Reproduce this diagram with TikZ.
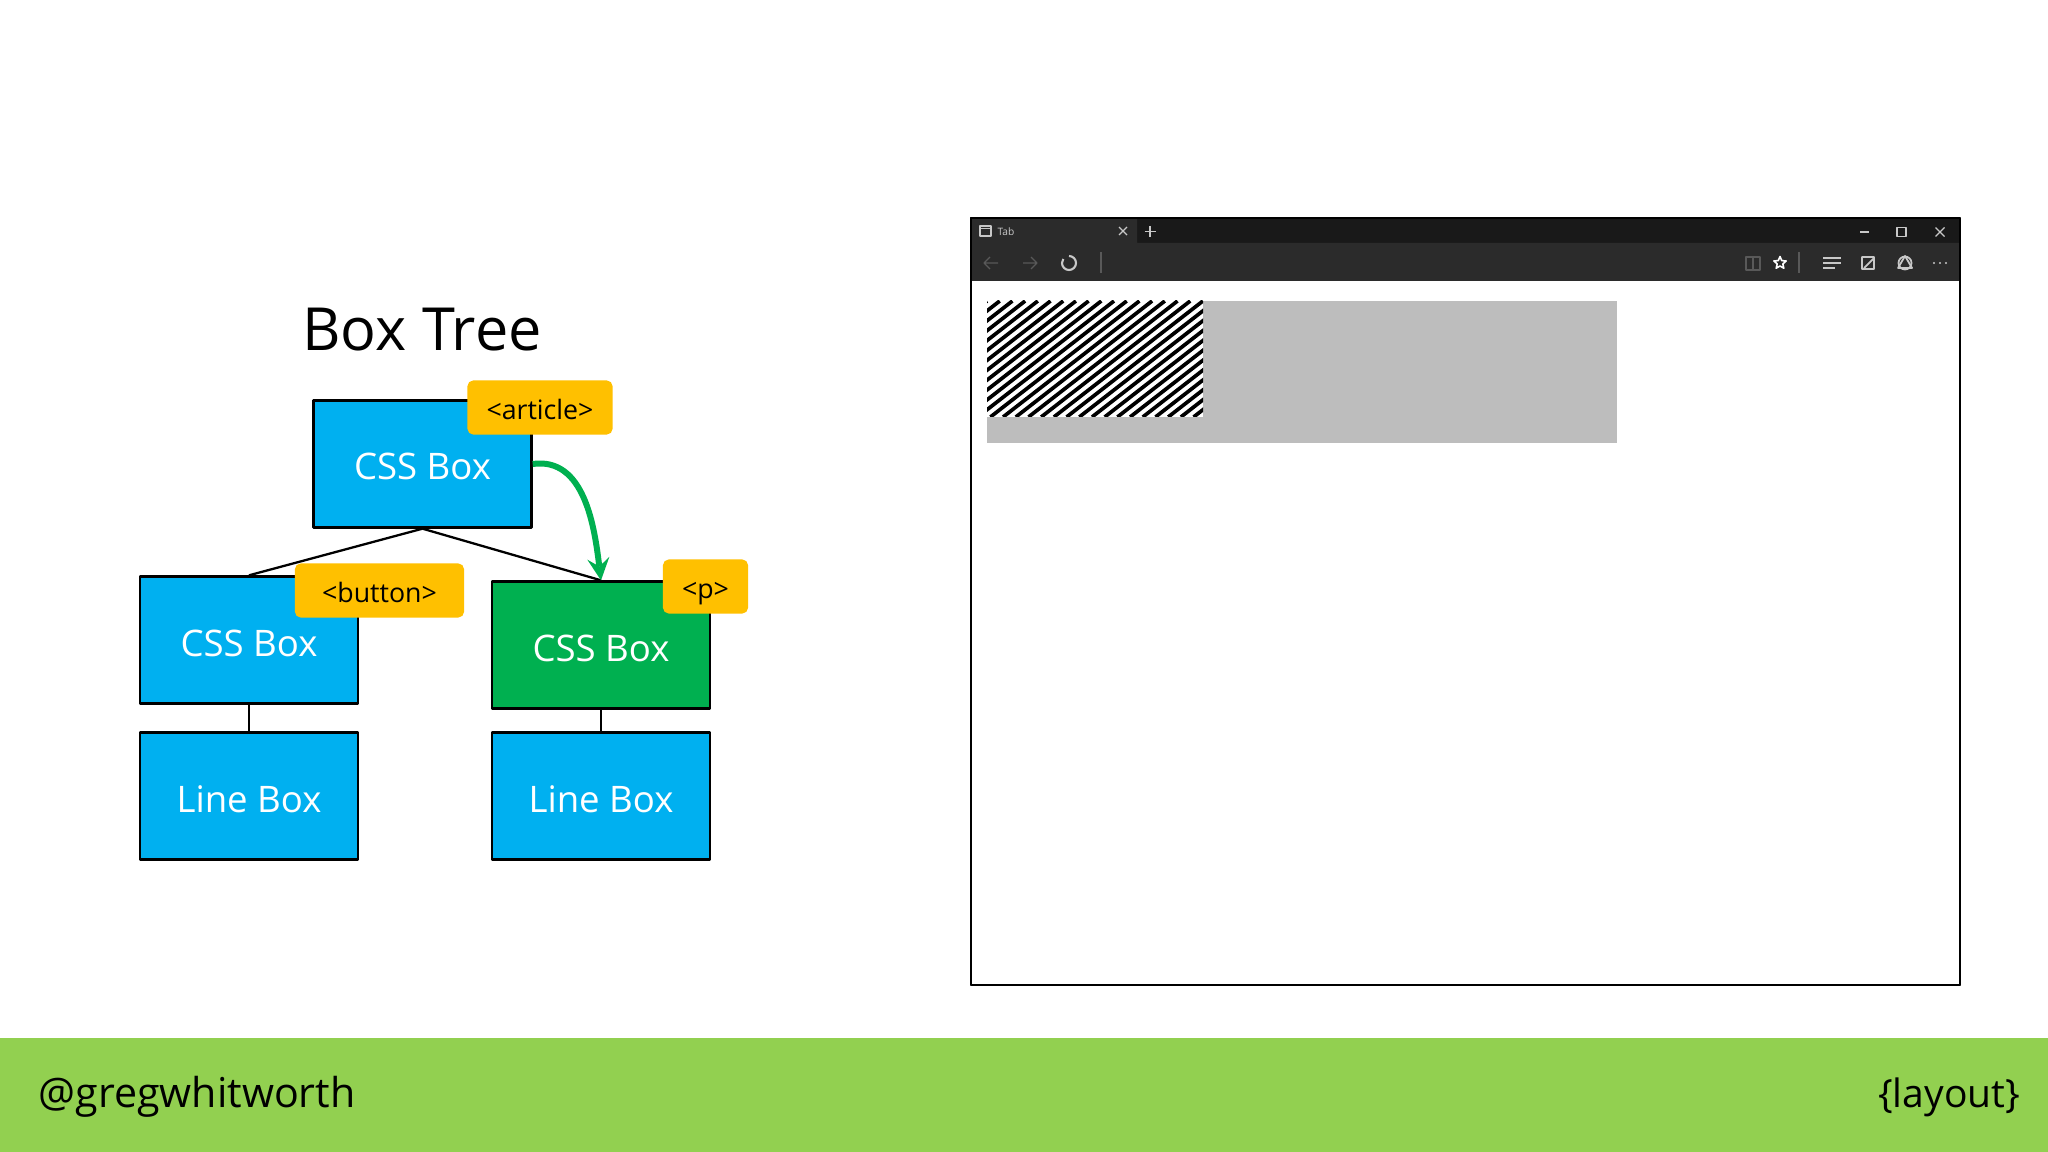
\documentclass[tikz,border=0pt]{standalone}
\usepackage{fontspec}
\setmainfont{Open Sans}
\usetikzlibrary{shapes.geometric}
\definecolor{boxblue}{HTML}{00B0F0}
\definecolor{boxgreen}{HTML}{00B050}
\definecolor{tagyellow}{HTML}{FFC000}
\definecolor{footgreen}{HTML}{92D050}
\definecolor{chrome}{HTML}{2B2B2B}
\definecolor{iconlight}{HTML}{C8C8C8}
\tikzset{
  cssbox/.style={draw=black, line width=0.65pt, fill=boxblue, text=white, minimum width=2.18cm, minimum height=1.27cm, inner sep=0pt, text height=9.1pt, text depth=0pt, font=\fontsize{10.4pt}{12pt}\selectfont},
  tagbox/.style={fill=tagyellow, rounded corners=1.6pt, minimum height=0.54cm, inner sep=0pt, text height=6.6pt, text depth=0pt, font=\fontsize{7.6pt}{9pt}\selectfont},
  treeline/.style={line width=0.65pt, black},
  icon/.style={draw=iconlight, line width=0.35pt},
  dimicon/.style={draw=gray!70!black, line width=0.35pt}
}
\begin{document}
\begin{tikzpicture}[x=0.01cm, y=-0.01cm, line join=round, >=stealth]
  \useasboundingbox (0,0) rectangle (2048,1152);
  \fill[white] (0,0) rectangle (2048,1152);
  % footer
  \node[fill=footgreen, minimum width=20.48cm, minimum height=1.14cm, inner sep=0pt] (footer) at (1024,1095) {};
  \node[anchor=west, inner sep=0pt, font=\fontsize{11.7pt}{13pt}\selectfont] (handle) at (38,1097) {@gregwhitworth};
  \node[anchor=east, inner sep=0pt, font=\fontsize{11.1pt}{13pt}\selectfont] (layout) at (2021,1097) {\{layout\}};
  % tree
  \node[font=\fontsize{16.9pt}{20pt}\selectfont, inner sep=0pt] (title) at (422,330) {Box Tree};
  \node[cssbox] (top) at (422.5,464) {CSS Box};
  \node[cssbox] (left) at (249,640) {CSS Box};
  \node[cssbox, fill=boxgreen] (right) at (601,645) {CSS Box};
  \node[cssbox] (lineleft) at (249,796) {Line Box};
  \node[cssbox] (lineright) at (601,796) {Line Box};
  \draw[treeline] (top.south) -- (left.north);
  \draw[treeline] (top.south) -- (right.north);
  \draw[treeline] (left.south) -- (lineleft.north);
  \draw[treeline] (right.south) -- (lineright.north);
  \draw[->, boxgreen, line width=1.7pt] (top.east) to[out=8, in=97] (right.north);
  \node[tagbox, minimum width=1.45cm] (tagarticle) at (540,407.5) {<article>};
  \node[tagbox, minimum width=1.69cm] (tagbutton) at (379.5,590.5) {<button>};
  \node[tagbox, minimum width=0.85cm] (tagp) at (705.5,586.5) {<p>};
  % browser
  \draw[fill=white, line width=0.8pt] (971,218) rectangle (1960,985);
  \fill[black!90] (971,218) rectangle (1960,243);
  \fill[chrome] (971,218) rectangle (1137,243) (971,243) rectangle (1960,281);
  \draw[line width=0.8pt] (971,218) rectangle (1960,985);
  \draw[icon] (980,226) rectangle (991,236) (980,228.5) -- (991,228.5);
  \node[text=iconlight, inner sep=0pt, font=\fontsize{2.9pt}{3pt}\selectfont] (tabname) at (1006,232) {Tab};
  \draw[icon] (1119,227) -- (1127,235) (1127,227) -- (1119,235);
  \draw[icon] (1150,226) -- (1150,237) (1144.5,231.5) -- (1155.5,231.5);
  \draw[icon] (1860,232) -- (1869,232);
  \draw[icon] (1897,227.5) rectangle (1906,236.5);
  \draw[icon] (1935.5,227.5) -- (1944.5,236.5) (1944.5,227.5) -- (1935.5,236.5);
  \draw[dimicon] (998,263) -- (984,263) (990,257) -- (984,263) -- (990,269);
  \draw[dimicon] (1023,263) -- (1037,263) (1031,257) -- (1037,263) -- (1031,269);
  \draw[icon, line width=0.6pt] (1069,256) arc[start angle=-90, end angle=215, radius=7];
  \draw[dimicon] (1101,252) -- (1101,273);
  \draw[dimicon] (1746,257) rectangle (1760,270) (1753,257) -- (1753,270);
  \node[star, star points=5, star point ratio=2.2, draw=white, line width=0.45pt, inner sep=0pt, minimum size=0.13cm] (favstar) at (1780,263) {};
  \draw[dimicon] (1799,252) -- (1799,273);
  \draw[icon, line width=0.5pt] (1823,258) -- (1841,258) (1823,263) -- (1841,263) (1823,268) -- (1835,268);
  \draw[icon, line width=0.5pt] (1862,257) rectangle (1874,269) (1864,268) -- (1874,258);
  \draw[icon, line width=0.5pt] (1905,256) -- (1912,268) -- (1898,268) -- cycle;
  \draw[icon, line width=0.5pt] (1905,263) circle[radius=6.5];
  \foreach \dotx in {1934,1940,1946} {
    \fill[iconlight] (\dotx,263) circle[radius=1.2];
  }
  \fill[black!26] (987,301) rectangle (1617,443);
  \fill[white] (987,301) rectangle (1203,417);
  \begin{scope}
    \clip (987,301) rectangle (1203,417);
    \foreach \hatchx in {838,850.7,...,1210} {
      \draw[line width=1.05pt] (\hatchx,417) -- ++(149,-116);
    }
  \end{scope}
\end{tikzpicture}
\end{document}
